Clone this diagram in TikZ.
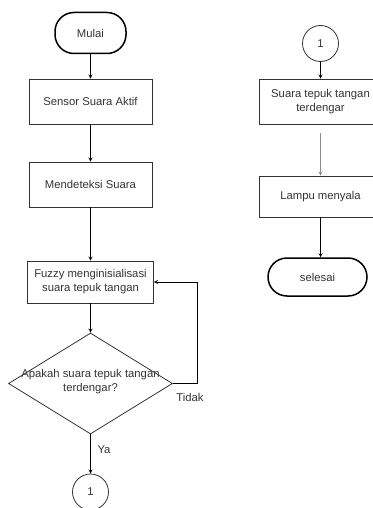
\documentclass[tikz,border=0pt]{standalone}
\usepackage{fontspec}
\setmainfont{Liberation Sans}
\usepackage{xcolor}
\usetikzlibrary{arrows,shapes.geometric}
\definecolor{garis}{HTML}{333333}

\begin{document}
\begin{tikzpicture}[x=1pt,y=-1pt,
        font=\fontsize{11.3}{14}\selectfont,
        every node/.style={text=garis},
        proses/.style={draw=garis,line width=0.8pt,rectangle,minimum width=123pt,minimum height=45pt,inner sep=0pt,align=center},
        terminal/.style={draw=black,line width=1.5pt,rectangle,rounded corners=19pt,inner sep=0pt},
        konektor/.style={draw=garis,line width=0.8pt,circle,minimum size=36pt,inner sep=0pt},
        panah/.style={->,>=stealth,draw=black,line width=0.8pt}]
        \useasboundingbox (0,0) rectangle (372,508);
        % kolom kiri
        \node[terminal,minimum width=71pt,minimum height=41pt] (mulai) at (90.5,33) {Mulai};
        \node[proses] (sensor) at (90.5,101.5) {Sensor Suara Aktif};
        \node[proses] (deteksi) at (90.5,184.5) {Mendeteksi Suara};
        \node[proses,minimum width=126pt,minimum height=42pt] (fuzzy) at (90.5,282) {Fuzzy menginisialisasi\\suara tepuk tangan};
        \node[draw=garis,line width=0.8pt,diamond,minimum width=164pt,minimum height=101pt,inner sep=0pt] (cek) at (90.5,383.5) {};
        \node[align=center,inner sep=0pt] (tanya) at (90.5,382) {Apakah suara tepuk tangan\\terdengar?};
        \node[konektor] (satuA) at (90.5,492) {1};
        \coordinate (balik) at (197,282);
        \node[inner sep=1pt] (tidak) at (190,397) {Tidak};
        \node[inner sep=1pt] (ya) at (104,450) {Ya};
        % kolom kanan
        \node[konektor] (satuB) at (320.5,43.5) {1};
        \node[proses] (suara) at (320.5,101.5) {Suara tepuk tangan\\terdengar};
        \node[proses,minimum height=41pt] (lampu) at (320.5,196.5) {Lampu menyala};
        \node[terminal,minimum width=99pt,minimum height=38pt] (selesai) at (317.5,277) {selesai};

        \draw[panah] (mulai) -- (sensor);
        \draw[panah] (sensor) -- (deteksi);
        \draw[panah] (deteksi) -- (fuzzy);
        \draw[panah] (fuzzy) -- (cek);
        \draw[panah] (cek.east) -| (balik) -- (fuzzy.east);
        \draw[panah] (cek) -- (satuA);
        \draw[panah] (satuB) -- (suara);
        \draw[panah,draw=black!45,shorten <=9pt] (suara) -- (lampu);
        \draw[panah] (lampu.south) -- (lampu.south |- selesai.north);
    \end{tikzpicture}
\end{document}
